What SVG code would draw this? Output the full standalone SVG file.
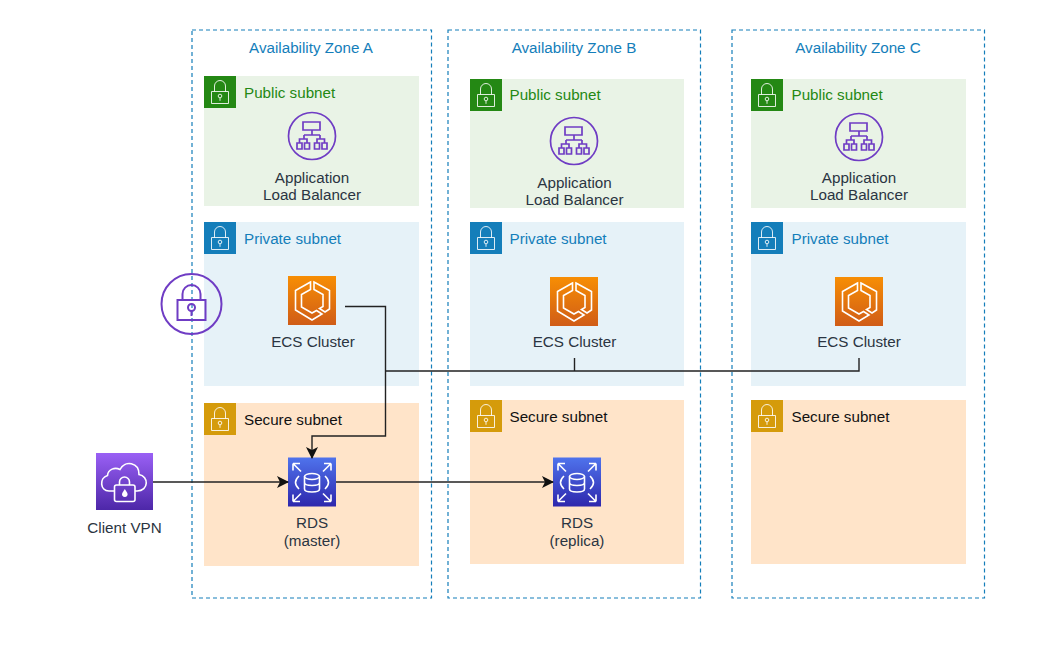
<svg xmlns="http://www.w3.org/2000/svg" width="1062" height="664" viewBox="0 0 1062 664">
<style>
text{font-family:"Liberation Sans",Arial,sans-serif;font-size:15.2px}
.z{fill:none;stroke:#147eba;stroke-width:1.2;stroke-dasharray:4 3}
.zt{fill:#147eba;text-anchor:middle}
.lb{fill:#2b3542;text-anchor:middle}
.pub{fill:#e9f3e6}.pri{fill:#e6f2f8}.sec{fill:#ffe4c9}
.w{fill:none;stroke:#fff;stroke-width:1.6}
.t{fill:none;stroke:#fff;stroke-width:1;stroke-opacity:.85}
.p{fill:none;stroke:#6f3cc4;stroke-width:1.7}
.c{fill:none;stroke:#222;stroke-width:1.4}
</style>
<defs>
<linearGradient id="go" x1="0" y1="1" x2="0" y2="0"><stop offset="0" stop-color="#d05c17"/><stop offset="1" stop-color="#f78e04"/></linearGradient>
<linearGradient id="gb" x1="0" y1="1" x2="0" y2="0"><stop offset="0" stop-color="#2e27ad"/><stop offset="1" stop-color="#4f73ec"/></linearGradient>
<linearGradient id="gp" x1="0" y1="1" x2="0" y2="0"><stop offset="0" stop-color="#4d27a8"/><stop offset="1" stop-color="#9a60f5"/></linearGradient>
<marker id="a" markerWidth="13" markerHeight="13" refX="11" refY="6" orient="auto" markerUnits="userSpaceOnUse"><path d="M0 0L12 6L0 12L3 6Z" fill="#111"/></marker>
<g id="lk"><path class="t" d="M10.500 15.500V10a5.500 5.500 0 0 1 11 0v5.500M7.500 15.500h17v12h-17z"/><circle class="t" cx="16" cy="20" r="1.800"/><path class="t" d="M16 21.800v3"/></g>
<g id="alb"><circle class="p" r="23.500"/><path class="p" d="M-9-14H8v8H-9zM0-6v5M-8-1H8M-8-1v4M8-1v4M-12.500 7V3H-5V7M12.500 7V3H5V7M-15 7h5v6h-5zM-7.500 7h5v6h-5zM2.500 7h5v6h-5zM10 7h5v6h-5z"/></g>
<g id="ecs"><rect width="48" height="49" fill="url(#go)"/><path class="w" d="M22.500 6L7.500 14.500V34L24 44l10-6-5.500-3.500L24 37 13.500 31V18.500L22.500 13.500zM26 6L41.500 14.500V33L37 36 31.500 32.500 35 30.500V18.500L26 13.500z"/></g>
<g id="rds"><rect width="48" height="49" fill="url(#gb)"/><path class="w" d="M5 6l8 8M5 6v7M5 6h7M43 6l-8 8M43 6v7M43 6h-7M5 44l8-8M5 44v-7M5 44h7M43 44l-8-8M43 44v-7M43 44h-7M11 18.500Q4 25 11 31.500M37 18.500Q44 25 37 31.500"/><ellipse class="w" cx="24" cy="19" rx="7.500" ry="3"/><path class="w" d="M16.500 19v12.500c0 4 15 4 15 0V19M16.500 25c0 4 15 4 15 0"/></g>
</defs>

<g id="zone-a"><rect class="z" x="192" y="30" width="239.500" height="568"/><text class="zt" x="311" y="53">Availability Zone A</text></g>
<g id="zone-b"><rect class="z" x="448" y="30" width="252.500" height="568"/><text class="zt" x="574" y="53">Availability Zone B</text></g>
<g id="zone-c"><rect class="z" x="732" y="30" width="252.500" height="568"/><text class="zt" x="858" y="53">Availability Zone C</text></g>

<g id="public-a"><rect class="pub" x="204" y="76" width="215" height="130"/><rect x="204" y="76" width="32" height="32" fill="#248814"/><use href="#lk" x="204" y="76"/><text x="244" y="98" fill="#248814">Public subnet</text></g>
<g id="private-a"><rect class="pri" x="204" y="222" width="215" height="164"/><rect x="204" y="222" width="32" height="32" fill="#147eba"/><use href="#lk" x="204" y="222"/><text x="244" y="244" fill="#147eba">Private subnet</text></g>
<g id="secure-a"><rect class="sec" x="204" y="403" width="215" height="163"/><rect x="204" y="403" width="32" height="32" fill="#d59b0b"/><use href="#lk" x="204" y="403"/><text x="244" y="425" fill="#111">Secure subnet</text></g>

<g id="public-b"><rect class="pub" x="470" y="79" width="214" height="129"/><rect x="470" y="79" width="32" height="32" fill="#248814"/><use href="#lk" x="470" y="79"/><text x="509.500" y="100" fill="#248814">Public subnet</text></g>
<g id="private-b"><rect class="pri" x="470" y="222" width="214" height="164"/><rect x="470" y="222" width="32" height="32" fill="#147eba"/><use href="#lk" x="470" y="222"/><text x="509.500" y="244" fill="#147eba">Private subnet</text></g>
<g id="secure-b"><rect class="sec" x="470" y="400" width="214" height="164"/><rect x="470" y="400" width="32" height="32" fill="#d59b0b"/><use href="#lk" x="470" y="400"/><text x="509.500" y="422" fill="#111">Secure subnet</text></g>

<g id="public-c"><rect class="pub" x="751" y="79" width="215" height="129"/><rect x="751" y="79" width="32" height="32" fill="#248814"/><use href="#lk" x="751" y="79"/><text x="791.500" y="100" fill="#248814">Public subnet</text></g>
<g id="private-c"><rect class="pri" x="751" y="222" width="215" height="164"/><rect x="751" y="222" width="32" height="32" fill="#147eba"/><use href="#lk" x="751" y="222"/><text x="791.500" y="244" fill="#147eba">Private subnet</text></g>
<g id="secure-c"><rect class="sec" x="751" y="400" width="215" height="164"/><rect x="751" y="400" width="32" height="32" fill="#d59b0b"/><use href="#lk" x="751" y="400"/><text x="791.500" y="422" fill="#111">Secure subnet</text></g>

<g id="alb-a"><use href="#alb" x="312" y="136"/><text class="lb" x="312" y="183">Application</text><text class="lb" x="312" y="200">Load Balancer</text></g>
<g id="alb-b"><use href="#alb" x="574" y="141"/><text class="lb" x="574.500" y="188">Application</text><text class="lb" x="574.500" y="205">Load Balancer</text></g>
<g id="alb-c"><use href="#alb" x="859" y="137"/><text class="lb" x="859" y="183">Application</text><text class="lb" x="859" y="200">Load Balancer</text></g>

<g id="ecs-a"><use href="#ecs" x="288" y="276"/><text class="lb" x="313" y="347">ECS Cluster</text></g>
<g id="ecs-b"><use href="#ecs" x="550" y="277"/><text class="lb" x="574.500" y="347">ECS Cluster</text></g>
<g id="ecs-c"><use href="#ecs" x="835" y="277"/><text class="lb" x="859" y="347">ECS Cluster</text></g>

<g id="kms"><circle cx="191.500" cy="304" r="30" fill="none" stroke="#6f3cc4" stroke-width="2"/><path fill="none" stroke="#6f3cc4" stroke-width="2" d="M177.500 300h28v20h-28zM182.500 300v-6a9 9 0 0 1 18 0v6"/><circle cx="191.500" cy="307.500" r="3.500" fill="none" stroke="#6f3cc4" stroke-width="2"/><path fill="none" stroke="#6f3cc4" stroke-width="2" d="M191.500 311v5"/></g>

<g id="rds-master"><use href="#rds" x="288" y="457.500"/><text class="lb" x="312" y="528">RDS</text><text class="lb" x="312" y="546">(master)</text></g>
<g id="rds-replica"><use href="#rds" x="553" y="457.500"/><text class="lb" x="577" y="528">RDS</text><text class="lb" x="577" y="546">(replica)</text></g>

<g id="client-vpn"><rect x="96" y="453" width="57" height="57" fill="url(#gp)"/><path class="w" d="M114 491h-5c-9 0-10-13-1.500-15.500C108 469 115 467 120 469.500 125 460 139 462 139 474.500 149 476 149 491 137 491h-2"/><rect class="w" x="114.500" y="485" width="20.500" height="16.500" rx="2"/><path class="w" d="M119.500 485v-3a5 5 0 0 1 10 0v3"/><path d="M124.800 489l2.500 4a2.800 2.800 0 1 1-5 0z" fill="#fff"/><text class="lb" x="124.500" y="533">Client VPN</text></g>

<g id="connectors">
<path class="c" marker-end="url(#a)" d="M345 306.500H385.500V436H312V458"/>
<path class="c" d="M385.500 371H859V358"/>
<path class="c" d="M574.500 371V358"/>
<path class="c" marker-end="url(#a)" d="M153 482H288"/>
<path class="c" marker-end="url(#a)" d="M336 482H553"/>
</g>
</svg>
